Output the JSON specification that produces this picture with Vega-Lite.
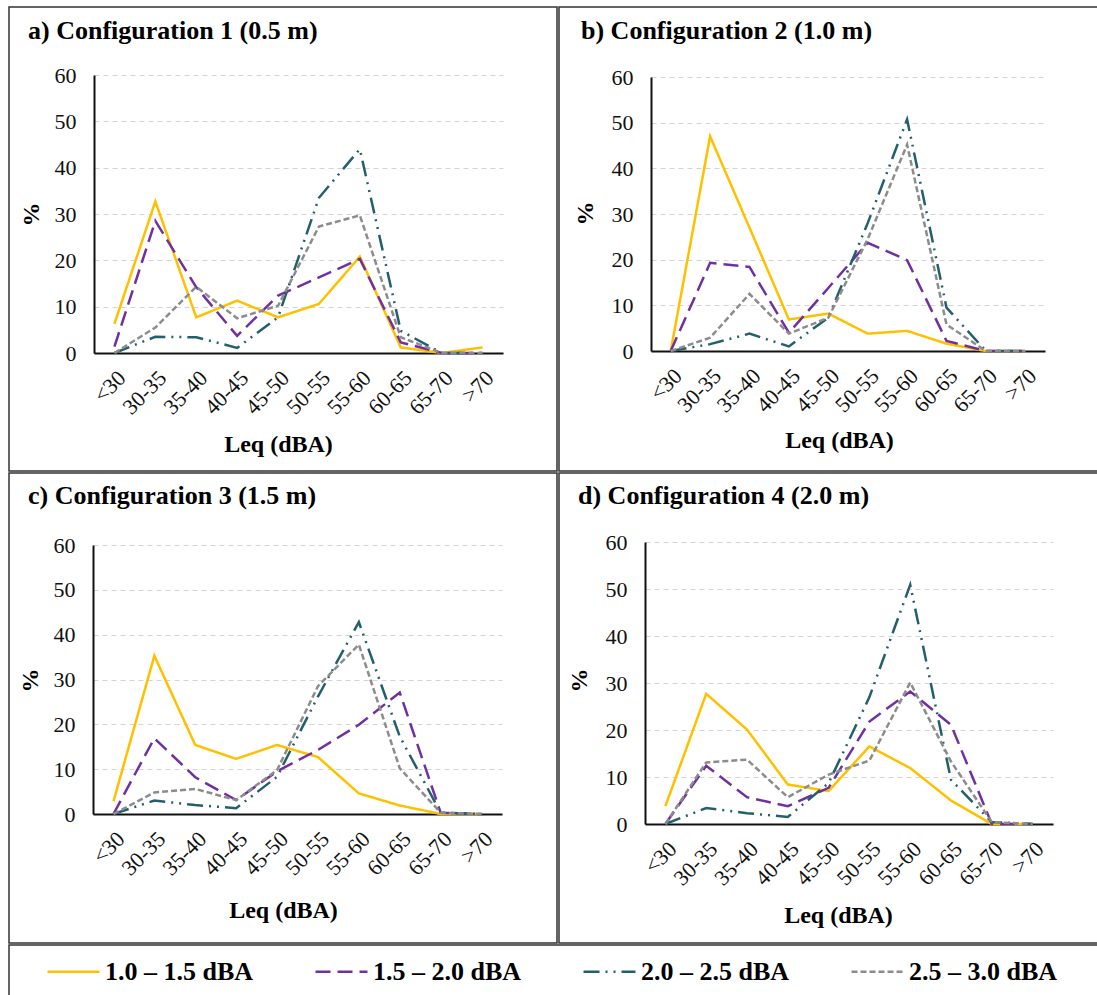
{
  "$schema": "https://vega.github.io/schema/vega-lite/v6.json",
  "padding": {"left": 8, "top": 6, "right": 0, "bottom": 0},
  "background": "white",
  "spacing": 0,
  "config": {
    "font": "Liberation Serif",
    "view": {"stroke": "#333", "strokeWidth": 1.5},
    "axis": {"labelFont": "Liberation Serif", "labelFontSize": 22, "labelColor": "#111", "titleFont": "Liberation Serif", "titleFontSize": 24, "titleFontWeight": "bold", "titleColor": "#000", "domainColor": "#111", "domainWidth": 2, "ticks": false},
    "title": {"font": "Liberation Serif", "fontSize": 26, "fontWeight": "bold", "color": "#000", "anchor": "start", "baseline": "alphabetic"}
  },
  "datasets": {
    "d": [
      {"p":"a","b":"<30","s":"1.0 – 1.5 dBA","v":6.3},{"p":"a","b":"30-35","s":"1.0 – 1.5 dBA","v":32.7},{"p":"a","b":"35-40","s":"1.0 – 1.5 dBA","v":7.7},{"p":"a","b":"40-45","s":"1.0 – 1.5 dBA","v":11.3},{"p":"a","b":"45-50","s":"1.0 – 1.5 dBA","v":7.7},{"p":"a","b":"50-55","s":"1.0 – 1.5 dBA","v":10.6},{"p":"a","b":"55-60","s":"1.0 – 1.5 dBA","v":20.8},{"p":"a","b":"60-65","s":"1.0 – 1.5 dBA","v":1.2},{"p":"a","b":"65-70","s":"1.0 – 1.5 dBA","v":0},{"p":"a","b":">70","s":"1.0 – 1.5 dBA","v":1.2},
      {"p":"a","b":"<30","s":"1.5 – 2.0 dBA","v":1.4},{"p":"a","b":"30-35","s":"1.5 – 2.0 dBA","v":28.5},{"p":"a","b":"35-40","s":"1.5 – 2.0 dBA","v":14.2},{"p":"a","b":"40-45","s":"1.5 – 2.0 dBA","v":3.7},{"p":"a","b":"45-50","s":"1.5 – 2.0 dBA","v":12.4},{"p":"a","b":"50-55","s":"1.5 – 2.0 dBA","v":16.3},{"p":"a","b":"55-60","s":"1.5 – 2.0 dBA","v":20.3},{"p":"a","b":"60-65","s":"1.5 – 2.0 dBA","v":2.3},{"p":"a","b":"65-70","s":"1.5 – 2.0 dBA","v":0},{"p":"a","b":">70","s":"1.5 – 2.0 dBA","v":0},
      {"p":"a","b":"<30","s":"2.0 – 2.5 dBA","v":0},{"p":"a","b":"30-35","s":"2.0 – 2.5 dBA","v":3.5},{"p":"a","b":"35-40","s":"2.0 – 2.5 dBA","v":3.4},{"p":"a","b":"40-45","s":"2.0 – 2.5 dBA","v":1.1},{"p":"a","b":"45-50","s":"2.0 – 2.5 dBA","v":7.7},{"p":"a","b":"50-55","s":"2.0 – 2.5 dBA","v":33.5},{"p":"a","b":"55-60","s":"2.0 – 2.5 dBA","v":44},{"p":"a","b":"60-65","s":"2.0 – 2.5 dBA","v":4.8},{"p":"a","b":"65-70","s":"2.0 – 2.5 dBA","v":0},{"p":"a","b":">70","s":"2.0 – 2.5 dBA","v":0},
      {"p":"a","b":"<30","s":"2.5 – 3.0 dBA","v":0},{"p":"a","b":"30-35","s":"2.5 – 3.0 dBA","v":5.5},{"p":"a","b":"35-40","s":"2.5 – 3.0 dBA","v":14.3},{"p":"a","b":"40-45","s":"2.5 – 3.0 dBA","v":7.5},{"p":"a","b":"45-50","s":"2.5 – 3.0 dBA","v":10.2},{"p":"a","b":"50-55","s":"2.5 – 3.0 dBA","v":27.3},{"p":"a","b":"55-60","s":"2.5 – 3.0 dBA","v":29.7},{"p":"a","b":"60-65","s":"2.5 – 3.0 dBA","v":3.4},{"p":"a","b":"65-70","s":"2.5 – 3.0 dBA","v":0},{"p":"a","b":">70","s":"2.5 – 3.0 dBA","v":0},

      {"p":"b","b":"<30","s":"1.0 – 1.5 dBA","v":0},{"p":"b","b":"30-35","s":"1.0 – 1.5 dBA","v":47},{"p":"b","b":"35-40","s":"1.0 – 1.5 dBA","v":27},{"p":"b","b":"40-45","s":"1.0 – 1.5 dBA","v":6.9},{"p":"b","b":"45-50","s":"1.0 – 1.5 dBA","v":8.2},{"p":"b","b":"50-55","s":"1.0 – 1.5 dBA","v":3.8},{"p":"b","b":"55-60","s":"1.0 – 1.5 dBA","v":4.4},{"p":"b","b":"60-65","s":"1.0 – 1.5 dBA","v":1.6},{"p":"b","b":"65-70","s":"1.0 – 1.5 dBA","v":0},{"p":"b","b":">70","s":"1.0 – 1.5 dBA","v":0},
      {"p":"b","b":"<30","s":"1.5 – 2.0 dBA","v":0},{"p":"b","b":"30-35","s":"1.5 – 2.0 dBA","v":19.3},{"p":"b","b":"35-40","s":"1.5 – 2.0 dBA","v":18.4},{"p":"b","b":"40-45","s":"1.5 – 2.0 dBA","v":4},{"p":"b","b":"45-50","s":"1.5 – 2.0 dBA","v":13.8},{"p":"b","b":"50-55","s":"1.5 – 2.0 dBA","v":23.7},{"p":"b","b":"55-60","s":"1.5 – 2.0 dBA","v":19.9},{"p":"b","b":"60-65","s":"1.5 – 2.0 dBA","v":2.2},{"p":"b","b":"65-70","s":"1.5 – 2.0 dBA","v":0},{"p":"b","b":">70","s":"1.5 – 2.0 dBA","v":0},
      {"p":"b","b":"<30","s":"2.0 – 2.5 dBA","v":0},{"p":"b","b":"30-35","s":"2.0 – 2.5 dBA","v":1.5},{"p":"b","b":"35-40","s":"2.0 – 2.5 dBA","v":3.8},{"p":"b","b":"40-45","s":"2.0 – 2.5 dBA","v":1},{"p":"b","b":"45-50","s":"2.0 – 2.5 dBA","v":7.3},{"p":"b","b":"50-55","s":"2.0 – 2.5 dBA","v":28},{"p":"b","b":"55-60","s":"2.0 – 2.5 dBA","v":50.7},{"p":"b","b":"60-65","s":"2.0 – 2.5 dBA","v":9.5},{"p":"b","b":"65-70","s":"2.0 – 2.5 dBA","v":0},{"p":"b","b":">70","s":"2.0 – 2.5 dBA","v":0},
      {"p":"b","b":"<30","s":"2.5 – 3.0 dBA","v":0},{"p":"b","b":"30-35","s":"2.5 – 3.0 dBA","v":2.9},{"p":"b","b":"35-40","s":"2.5 – 3.0 dBA","v":12.5},{"p":"b","b":"40-45","s":"2.5 – 3.0 dBA","v":3.8},{"p":"b","b":"45-50","s":"2.5 – 3.0 dBA","v":7.3},{"p":"b","b":"50-55","s":"2.5 – 3.0 dBA","v":24.5},{"p":"b","b":"55-60","s":"2.5 – 3.0 dBA","v":45.2},{"p":"b","b":"60-65","s":"2.5 – 3.0 dBA","v":5.8},{"p":"b","b":"65-70","s":"2.5 – 3.0 dBA","v":0},{"p":"b","b":">70","s":"2.5 – 3.0 dBA","v":0},

      {"p":"c","b":"<30","s":"1.0 – 1.5 dBA","v":2.8},{"p":"c","b":"30-35","s":"1.0 – 1.5 dBA","v":35.3},{"p":"c","b":"35-40","s":"1.0 – 1.5 dBA","v":15.4},{"p":"c","b":"40-45","s":"1.0 – 1.5 dBA","v":12.3},{"p":"c","b":"45-50","s":"1.0 – 1.5 dBA","v":15.4},{"p":"c","b":"50-55","s":"1.0 – 1.5 dBA","v":12.7},{"p":"c","b":"55-60","s":"1.0 – 1.5 dBA","v":4.6},{"p":"c","b":"60-65","s":"1.0 – 1.5 dBA","v":1.9},{"p":"c","b":"65-70","s":"1.0 – 1.5 dBA","v":0},{"p":"c","b":">70","s":"1.0 – 1.5 dBA","v":0},
      {"p":"c","b":"<30","s":"1.5 – 2.0 dBA","v":0},{"p":"c","b":"30-35","s":"1.5 – 2.0 dBA","v":16.9},{"p":"c","b":"35-40","s":"1.5 – 2.0 dBA","v":8.2},{"p":"c","b":"40-45","s":"1.5 – 2.0 dBA","v":3.1},{"p":"c","b":"45-50","s":"1.5 – 2.0 dBA","v":9.5},{"p":"c","b":"50-55","s":"1.5 – 2.0 dBA","v":14.3},{"p":"c","b":"55-60","s":"1.5 – 2.0 dBA","v":19.9},{"p":"c","b":"60-65","s":"1.5 – 2.0 dBA","v":27.1},{"p":"c","b":"65-70","s":"1.5 – 2.0 dBA","v":0.3},{"p":"c","b":">70","s":"1.5 – 2.0 dBA","v":0},
      {"p":"c","b":"<30","s":"2.0 – 2.5 dBA","v":0},{"p":"c","b":"30-35","s":"2.0 – 2.5 dBA","v":3},{"p":"c","b":"35-40","s":"2.0 – 2.5 dBA","v":2},{"p":"c","b":"40-45","s":"2.0 – 2.5 dBA","v":1.3},{"p":"c","b":"45-50","s":"2.0 – 2.5 dBA","v":8.3},{"p":"c","b":"50-55","s":"2.0 – 2.5 dBA","v":26.2},{"p":"c","b":"55-60","s":"2.0 – 2.5 dBA","v":42.8},{"p":"c","b":"60-65","s":"2.0 – 2.5 dBA","v":17.3},{"p":"c","b":"65-70","s":"2.0 – 2.5 dBA","v":0.3},{"p":"c","b":">70","s":"2.0 – 2.5 dBA","v":0},
      {"p":"c","b":"<30","s":"2.5 – 3.0 dBA","v":0},{"p":"c","b":"30-35","s":"2.5 – 3.0 dBA","v":4.8},{"p":"c","b":"35-40","s":"2.5 – 3.0 dBA","v":5.6},{"p":"c","b":"40-45","s":"2.5 – 3.0 dBA","v":3.1},{"p":"c","b":"45-50","s":"2.5 – 3.0 dBA","v":9.8},{"p":"c","b":"50-55","s":"2.5 – 3.0 dBA","v":28.5},{"p":"c","b":"55-60","s":"2.5 – 3.0 dBA","v":37.8},{"p":"c","b":"60-65","s":"2.5 – 3.0 dBA","v":10.2},{"p":"c","b":"65-70","s":"2.5 – 3.0 dBA","v":0.3},{"p":"c","b":">70","s":"2.5 – 3.0 dBA","v":0},

      {"p":"d","b":"<30","s":"1.0 – 1.5 dBA","v":3.8},{"p":"d","b":"30-35","s":"1.0 – 1.5 dBA","v":27.7},{"p":"d","b":"35-40","s":"1.0 – 1.5 dBA","v":20.1},{"p":"d","b":"40-45","s":"1.0 – 1.5 dBA","v":8.4},{"p":"d","b":"45-50","s":"1.0 – 1.5 dBA","v":7},{"p":"d","b":"50-55","s":"1.0 – 1.5 dBA","v":16.5},{"p":"d","b":"55-60","s":"1.0 – 1.5 dBA","v":11.9},{"p":"d","b":"60-65","s":"1.0 – 1.5 dBA","v":5},{"p":"d","b":"65-70","s":"1.0 – 1.5 dBA","v":0},{"p":"d","b":">70","s":"1.0 – 1.5 dBA","v":0},
      {"p":"d","b":"<30","s":"1.5 – 2.0 dBA","v":0},{"p":"d","b":"30-35","s":"1.5 – 2.0 dBA","v":12.4},{"p":"d","b":"35-40","s":"1.5 – 2.0 dBA","v":5.7},{"p":"d","b":"40-45","s":"1.5 – 2.0 dBA","v":3.8},{"p":"d","b":"45-50","s":"1.5 – 2.0 dBA","v":7.7},{"p":"d","b":"50-55","s":"1.5 – 2.0 dBA","v":21.8},{"p":"d","b":"55-60","s":"1.5 – 2.0 dBA","v":28.2},{"p":"d","b":"60-65","s":"1.5 – 2.0 dBA","v":21.1},{"p":"d","b":"65-70","s":"1.5 – 2.0 dBA","v":0},{"p":"d","b":">70","s":"1.5 – 2.0 dBA","v":0},
      {"p":"d","b":"<30","s":"2.0 – 2.5 dBA","v":0},{"p":"d","b":"30-35","s":"2.0 – 2.5 dBA","v":3.4},{"p":"d","b":"35-40","s":"2.0 – 2.5 dBA","v":2.3},{"p":"d","b":"40-45","s":"2.0 – 2.5 dBA","v":1.5},{"p":"d","b":"45-50","s":"2.0 – 2.5 dBA","v":8.7},{"p":"d","b":"50-55","s":"2.0 – 2.5 dBA","v":27},{"p":"d","b":"55-60","s":"2.0 – 2.5 dBA","v":50.9},{"p":"d","b":"60-65","s":"2.0 – 2.5 dBA","v":9.4},{"p":"d","b":"65-70","s":"2.0 – 2.5 dBA","v":0.4},{"p":"d","b":">70","s":"2.0 – 2.5 dBA","v":0},
      {"p":"d","b":"<30","s":"2.5 – 3.0 dBA","v":0},{"p":"d","b":"30-35","s":"2.5 – 3.0 dBA","v":13.1},{"p":"d","b":"35-40","s":"2.5 – 3.0 dBA","v":13.7},{"p":"d","b":"40-45","s":"2.5 – 3.0 dBA","v":5.7},{"p":"d","b":"45-50","s":"2.5 – 3.0 dBA","v":10.5},{"p":"d","b":"50-55","s":"2.5 – 3.0 dBA","v":13.5},{"p":"d","b":"55-60","s":"2.5 – 3.0 dBA","v":30.1},{"p":"d","b":"60-65","s":"2.5 – 3.0 dBA","v":13.3},{"p":"d","b":"65-70","s":"2.5 – 3.0 dBA","v":0.4},{"p":"d","b":">70","s":"2.5 – 3.0 dBA","v":0}
    ]
  },
  "resolve": {"scale": {"x": "independent", "y": "independent"}},
  "vconcat": [
    {
      "spacing": 0,
      "resolve": {"scale": {"x": "independent", "y": "independent"}},
      "hconcat": [
        {
          "width": 548, "height": 464,
          "title": {"text": "a) Configuration 1 (0.5 m)", "dx": 19, "offset": -37},
          "data": {"name": "d"},
          "transform": [{"filter": "datum.p == 'a'"}],
          "mark": {"type": "line", "strokeWidth": 2.5},
          "encoding": {
            "x": {"field": "b", "type": "ordinal", "sort": ["<30","30-35","35-40","40-45","45-50","50-55","55-60","60-65","65-70",">70"], "scale": {"type": "point", "range": [85, 494], "padding": 0.5}, "axis": {"title": "Leq (dBA)", "offset": -118, "labelAngle": -45, "labelPadding": 14, "titleX": 269, "titleY": 79, "titleBaseline": "top", "titleAlign": "center"}},
            "y": {"field": "v", "type": "quantitative", "scale": {"domain": [0, 60], "range": [346, 68], "nice": false}, "axis": {"title": "%", "offset": -85, "values": [0,10,20,30,40,50,60], "grid": true, "gridDash": [5, 4], "gridColor": "#d4d4d4", "gridWidth": 1.2, "labelPadding": 18, "titleX": -63, "titleY": 207, "titleAngle": 270, "titleBaseline": "middle", "titleAlign": "center"}},
            "color": {"field": "s", "type": "nominal", "scale": {"domain": ["1.0 – 1.5 dBA","1.5 – 2.0 dBA","2.0 – 2.5 dBA","2.5 – 3.0 dBA"], "range": ["#FFC000","#7030A0","#245F6C","#8C8C8C"]}},
            "strokeDash": {"field": "s", "type": "nominal", "scale": {"domain": ["1.0 – 1.5 dBA","1.5 – 2.0 dBA","2.0 – 2.5 dBA","2.5 – 3.0 dBA"], "range": [[1,0],[15,7],[16,6,2,6,2,6],[6,3]]}}
          }
        },
        {
          "width": 542, "height": 464,
          "title": {"text": "b) Configuration 2 (1.0 m)", "dx": 22, "offset": -37},
          "data": {"name": "d"},
          "transform": [{"filter": "datum.p == 'b'"}],
          "mark": {"type": "line", "strokeWidth": 2.5},
          "encoding": {
            "x": {"field": "b", "type": "ordinal", "sort": ["<30","30-35","35-40","40-45","45-50","50-55","55-60","60-65","65-70",">70"], "scale": {"type": "point", "range": [92, 486], "padding": 0.5}, "axis": {"title": "Leq (dBA)", "offset": -120, "labelAngle": -45, "labelPadding": 14, "titleX": 280, "titleY": 77, "titleBaseline": "top", "titleAlign": "center"}},
            "y": {"field": "v", "type": "quantitative", "scale": {"domain": [0, 60], "range": [344, 70], "nice": false}, "axis": {"title": "%", "offset": -92, "values": [0,10,20,30,40,50,60], "grid": true, "gridDash": [5, 4], "gridColor": "#d4d4d4", "gridWidth": 1.2, "labelPadding": 18, "titleX": -66, "titleY": 206, "titleAngle": 270, "titleBaseline": "middle", "titleAlign": "center"}},
            "color": {"field": "s", "type": "nominal"},
            "strokeDash": {"field": "s", "type": "nominal"}
          }
        }
      ]
    },
    {
      "spacing": 0,
      "resolve": {"scale": {"x": "independent", "y": "independent"}},
      "hconcat": [
        {
          "width": 548, "height": 470,
          "title": {"text": "c) Configuration 3 (1.5 m)", "dx": 19, "offset": -36},
          "data": {"name": "d"},
          "transform": [{"filter": "datum.p == 'c'"}],
          "mark": {"type": "line", "strokeWidth": 2.5},
          "encoding": {
            "x": {"field": "b", "type": "ordinal", "sort": ["<30","30-35","35-40","40-45","45-50","50-55","55-60","60-65","65-70",">70"], "scale": {"type": "point", "range": [84, 493], "padding": 0.5}, "axis": {"title": "Leq (dBA)", "offset": -129, "labelAngle": -45, "labelPadding": 14, "titleX": 274, "titleY": 84, "titleBaseline": "top", "titleAlign": "center"}},
            "y": {"field": "v", "type": "quantitative", "scale": {"domain": [0, 60], "range": [341, 72], "nice": false}, "axis": {"title": "%", "offset": -84, "values": [0,10,20,30,40,50,60], "grid": true, "gridDash": [5, 4], "gridColor": "#d4d4d4", "gridWidth": 1.2, "labelPadding": 18, "titleX": -63, "titleY": 207, "titleAngle": 270, "titleBaseline": "middle", "titleAlign": "center"}},
            "color": {"field": "s", "type": "nominal"},
            "strokeDash": {"field": "s", "type": "nominal"}
          }
        },
        {
          "width": 542, "height": 470,
          "title": {"text": "d) Configuration 4 (2.0 m)", "dx": 19, "offset": -36},
          "data": {"name": "d"},
          "transform": [{"filter": "datum.p == 'd'"}],
          "mark": {"type": "line", "strokeWidth": 2.5},
          "encoding": {
            "x": {"field": "b", "type": "ordinal", "sort": ["<30","30-35","35-40","40-45","45-50","50-55","55-60","60-65","65-70",">70"], "scale": {"type": "point", "range": [86, 494], "padding": 0.5}, "axis": {"title": "Leq (dBA)", "offset": -119, "labelAngle": -45, "labelPadding": 14, "titleX": 279, "titleY": 79, "titleBaseline": "top", "titleAlign": "center"}},
            "y": {"field": "v", "type": "quantitative", "scale": {"domain": [0, 60], "range": [351, 69], "nice": false}, "axis": {"title": "%", "offset": -86, "values": [0,10,20,30,40,50,60], "grid": true, "gridDash": [5, 4], "gridColor": "#d4d4d4", "gridWidth": 1.2, "labelPadding": 18, "titleX": -66, "titleY": 207, "titleAngle": 270, "titleBaseline": "middle", "titleAlign": "center"}},
            "color": {"field": "s", "type": "nominal"},
            "strokeDash": {"field": "s", "type": "nominal"}
          }
        }
      ]
    },
    {
      "width": 1090, "height": 56,
      "data": {"name": "d"},
      "transform": [{"filter": "datum.p == 'a'"}],
      "mark": {"type": "line", "opacity": 0},
      "encoding": {
        "x": {"field": "b", "type": "ordinal", "axis": null},
        "y": {"field": "v", "type": "quantitative", "axis": null},
        "color": {"field": "s", "type": "nominal", "legend": {"orient": "none", "legendX": 37, "legendY": 937, "direction": "horizontal", "columns": 4, "title": null, "symbolType": "stroke", "symbolSize": 2700, "symbolStrokeWidth": 2.5, "symbolOpacity": 1, "labelFont": "Liberation Serif", "labelFontSize": 26, "labelFontWeight": "bold", "labelColor": "#000", "labelOffset": 4, "columnPadding": 56, "labelLimit": 300}},
        "strokeDash": {"field": "s", "type": "nominal", "legend": {"orient": "none", "legendX": 37, "legendY": 937, "direction": "horizontal", "columns": 4, "title": null, "symbolType": "stroke", "symbolSize": 2700, "symbolStrokeWidth": 2.5, "symbolOpacity": 1, "labelFont": "Liberation Serif", "labelFontSize": 26, "labelFontWeight": "bold", "labelColor": "#000", "labelOffset": 4, "columnPadding": 56, "labelLimit": 300}}
      }
    }
  ]
}
